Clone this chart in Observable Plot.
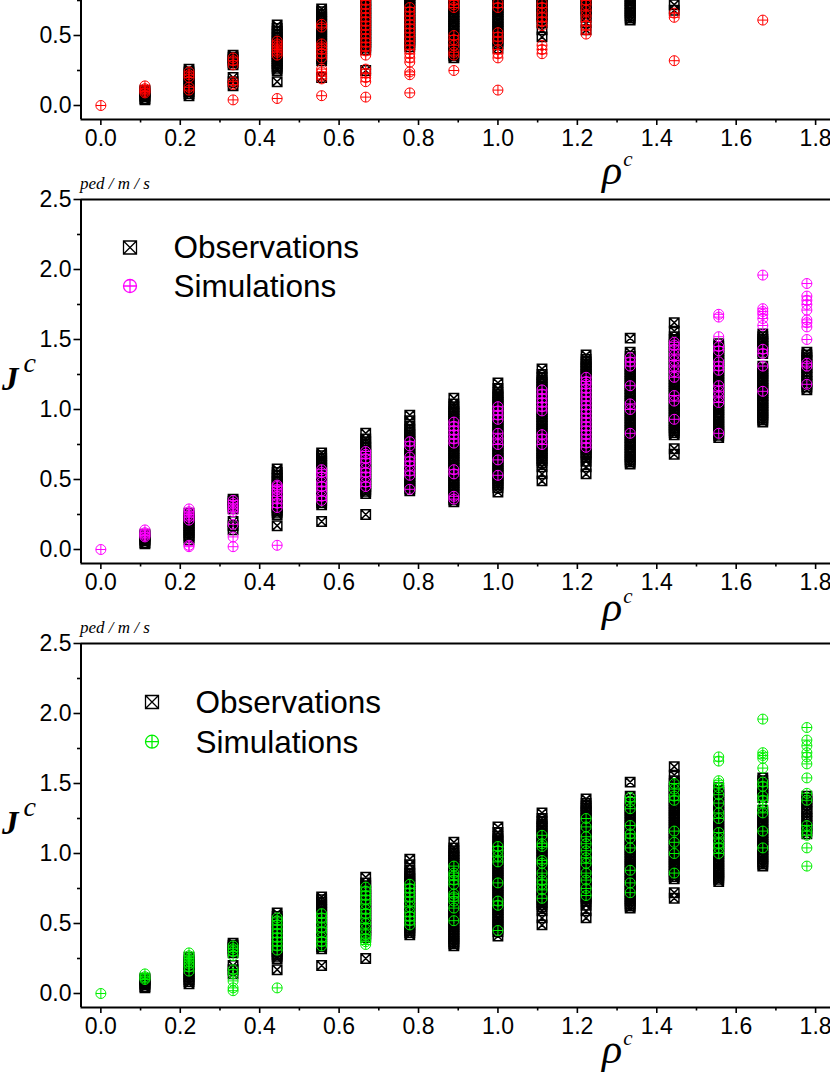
<!DOCTYPE html>
<html><head><meta charset="utf-8">
<script src="https://cdn.jsdelivr.net/npm/d3@7"></script>
<script src="https://cdn.jsdelivr.net/npm/@observablehq/plot@0.6"></script>
<style>
html,body{margin:0;padding:0;background:#fff;}
#wrap{position:relative;width:830px;height:1075px;overflow:hidden;background:#fff;}
</style></head><body><div id="wrap"></div>
<script>
// density columns rho^c (ped/m^2)
const rhoValues = [0, 0.111, 0.222, 0.333, 0.444, 0.556, 0.667, 0.778, 0.889, 1.0, 1.111, 1.222, 1.333, 1.444, 1.556, 1.667, 1.778];

// observed flow J^c per column
const obsFlux = [
  [],
  [0.04, 0.05, 0.065, 0.075, 0.09, 0.1, 0.11],
  [0.07, 0.085, 0.1, 0.12, 0.14, 0.155, 0.17, 0.19, 0.21, 0.225, 0.24, 0.26],
  [0.14, 0.17, 0.2, 0.29, 0.305, 0.32, 0.33, 0.345, 0.36],
  [0.17, 0.25, 0.265, 0.28, 0.3, 0.32, 0.335, 0.35, 0.37, 0.385, 0.4, 0.42, 0.44, 0.455, 0.47, 0.49, 0.51, 0.53, 0.55, 0.575],
  [0.2, 0.32, 0.335, 0.35, 0.37, 0.39, 0.405, 0.42, 0.44, 0.46, 0.475, 0.49, 0.51, 0.53, 0.545, 0.56, 0.58, 0.6, 0.615, 0.63, 0.65, 0.67, 0.69],
  [0.25, 0.4, 0.415, 0.43, 0.45, 0.47, 0.485, 0.5, 0.52, 0.54, 0.555, 0.57, 0.59, 0.61, 0.625, 0.64, 0.66, 0.68, 0.695, 0.71, 0.73, 0.75, 0.77, 0.79, 0.83],
  [0.42, 0.435, 0.45, 0.47, 0.49, 0.505, 0.52, 0.54, 0.56, 0.575, 0.59, 0.61, 0.63, 0.645, 0.66, 0.68, 0.7, 0.715, 0.73, 0.75, 0.77, 0.785, 0.8, 0.82, 0.84, 0.86, 0.88, 0.92, 0.96],
  [0.34, 0.355, 0.37, 0.39, 0.41, 0.425, 0.44, 0.46, 0.48, 0.495, 0.51, 0.53, 0.55, 0.565, 0.58, 0.6, 0.62, 0.635, 0.65, 0.67, 0.69, 0.705, 0.72, 0.74, 0.76, 0.775, 0.79, 0.81, 0.83, 0.845, 0.86, 0.88, 0.9, 0.915, 0.93, 0.95, 0.97, 0.985, 1.0, 1.02, 1.04, 1.08],
  [0.41, 0.44, 0.46, 0.475, 0.49, 0.51, 0.53, 0.545, 0.56, 0.58, 0.6, 0.615, 0.63, 0.65, 0.67, 0.685, 0.7, 0.72, 0.74, 0.755, 0.77, 0.79, 0.81, 0.825, 0.84, 0.86, 0.88, 0.895, 0.91, 0.93, 0.95, 0.965, 0.98, 1.0, 1.02, 1.035, 1.05, 1.07, 1.09, 1.105, 1.12, 1.15, 1.19],
  [0.49, 0.54, 0.59, 0.62, 0.635, 0.65, 0.67, 0.69, 0.705, 0.72, 0.74, 0.76, 0.775, 0.79, 0.81, 0.83, 0.845, 0.86, 0.88, 0.9, 0.915, 0.93, 0.95, 0.97, 0.985, 1.0, 1.02, 1.04, 1.055, 1.07, 1.09, 1.11, 1.125, 1.14, 1.16, 1.18, 1.195, 1.21, 1.23, 1.25, 1.29],
  [0.54, 0.59, 0.63, 0.66, 0.675, 0.69, 0.71, 0.73, 0.745, 0.76, 0.78, 0.8, 0.815, 0.83, 0.85, 0.87, 0.885, 0.9, 0.92, 0.94, 0.955, 0.97, 0.99, 1.01, 1.025, 1.04, 1.06, 1.08, 1.095, 1.11, 1.13, 1.15, 1.165, 1.18, 1.2, 1.22, 1.235, 1.25, 1.27, 1.29, 1.305, 1.32, 1.34, 1.36, 1.39],
  [0.61, 0.625, 0.64, 0.66, 0.68, 0.695, 0.71, 0.73, 0.75, 0.765, 0.78, 0.8, 0.82, 0.835, 0.85, 0.87, 0.89, 0.905, 0.92, 0.94, 0.96, 0.975, 0.99, 1.01, 1.03, 1.045, 1.06, 1.08, 1.1, 1.115, 1.13, 1.15, 1.17, 1.185, 1.2, 1.22, 1.24, 1.255, 1.27, 1.29, 1.31, 1.325, 1.34, 1.36, 1.38, 1.41, 1.51],
  [0.68, 0.72, 0.82, 0.835, 0.85, 0.87, 0.89, 0.905, 0.92, 0.94, 0.96, 0.975, 0.99, 1.01, 1.03, 1.045, 1.06, 1.08, 1.1, 1.115, 1.13, 1.15, 1.17, 1.185, 1.2, 1.22, 1.24, 1.255, 1.27, 1.29, 1.31, 1.325, 1.34, 1.36, 1.38, 1.395, 1.41, 1.43, 1.45, 1.465, 1.48, 1.5, 1.52, 1.56, 1.62],
  [0.8, 0.815, 0.83, 0.845, 0.86, 0.875, 0.89, 0.91, 0.93, 0.945, 0.96, 0.98, 1.0, 1.015, 1.03, 1.05, 1.07, 1.085, 1.1, 1.12, 1.14, 1.155, 1.17, 1.19, 1.21, 1.225, 1.24, 1.26, 1.28, 1.295, 1.31, 1.33, 1.35, 1.365, 1.38, 1.4, 1.42, 1.435, 1.45, 1.47],
  [0.91, 0.925, 0.94, 0.96, 0.98, 0.995, 1.01, 1.03, 1.05, 1.065, 1.08, 1.1, 1.12, 1.135, 1.15, 1.17, 1.19, 1.205, 1.22, 1.24, 1.26, 1.275, 1.29, 1.31, 1.4, 1.415, 1.43, 1.45, 1.47, 1.485, 1.5, 1.52, 1.54],
  [1.14, 1.16, 1.18, 1.2, 1.23, 1.25, 1.27, 1.3, 1.32, 1.35, 1.37, 1.39, 1.41]
];

// simulated flow, model 1 (red, top panel; values above 0.75 are outside the visible crop)
const simFluxRed = [
  [0],
  [0.09, 0.1, 0.11, 0.12, 0.14],
  [0.11, 0.13, 0.2, 0.22, 0.24],
  [0.04, 0.15, 0.17, 0.29, 0.32, 0.34],
  [0.05, 0.36, 0.38, 0.4, 0.42, 0.44, 0.46],
  [0.07, 0.19, 0.21, 0.24, 0.26, 0.34, 0.37, 0.4, 0.42, 0.44, 0.56, 0.58],
  [0.06, 0.17, 0.2, 0.23, 0.26, 0.36, 0.39, 0.42, 0.45, 0.48, 0.51, 0.54, 0.57, 0.6, 0.63, 0.66, 0.69, 0.72, 0.75],
  [0.09, 0.22, 0.24, 0.31, 0.34, 0.37, 0.4, 0.43, 0.46, 0.49, 0.52, 0.55, 0.58, 0.61, 0.64, 0.67, 0.7],
  [0.25, 0.36, 0.38, 0.43, 0.47, 0.5, 0.7, 0.72, 0.75],
  [0.11, 0.34, 0.37, 0.4, 0.46, 0.49, 0.52, 0.7, 0.73],
  [0.37, 0.4, 0.43, 0.57, 0.6, 0.63, 0.66, 0.7, 0.73],
  [0.51, 0.54, 0.57, 0.6, 0.64, 0.68, 0.72, 0.75],
  [],
  [0.32, 0.63, 0.66],
  [],
  [0.61],
  []
];

// simulated flow, model 2 (magenta, middle panel)
const simFluxMagenta = [
  [0],
  [0.09, 0.1, 0.11, 0.12, 0.14],
  [0.02, 0.03, 0.21, 0.23, 0.25, 0.27, 0.29],
  [0.02, 0.09, 0.18, 0.27, 0.29, 0.31, 0.33, 0.35],
  [0.03, 0.3, 0.33, 0.36, 0.38, 0.41, 0.43, 0.45, 0.46],
  [0.35, 0.38, 0.42, 0.45, 0.48, 0.52, 0.55, 0.57],
  [0.45, 0.48, 0.52, 0.55, 0.58, 0.62, 0.65, 0.68, 0.7],
  [0.43, 0.53, 0.56, 0.6, 0.63, 0.66, 0.74, 0.77],
  [0.36, 0.38, 0.54, 0.57, 0.76, 0.79, 0.82, 0.85, 0.88, 0.91],
  [0.53, 0.64, 0.75, 0.79, 0.83, 0.93, 0.96, 0.99, 1.02],
  [0.75, 0.79, 0.82, 0.99, 1.02, 1.05, 1.08, 1.11, 1.14],
  [0.73, 0.76, 0.79, 0.82, 0.85, 0.88, 0.91, 0.94, 0.97, 1.0, 1.03, 1.06, 1.09, 1.12, 1.15, 1.18, 1.2, 1.23],
  [0.83, 1.0, 1.04, 1.17, 1.31, 1.34, 1.37],
  [0.93, 1.06, 1.1, 1.23, 1.27, 1.31, 1.35, 1.39, 1.43, 1.46, 1.48],
  [0.83, 1.05, 1.09, 1.13, 1.17, 1.28, 1.31, 1.34, 1.42, 1.45, 1.52, 1.66, 1.68],
  [1.13, 1.31, 1.4, 1.43, 1.6, 1.65, 1.68, 1.7, 1.72, 1.96],
  [1.18, 1.31, 1.33, 1.5, 1.59, 1.62, 1.64, 1.71, 1.75, 1.78, 1.81, 1.9]
];

// simulated flow, model 3 (green, bottom panel)
const simFluxGreen = [
  [0],
  [0.1, 0.11, 0.12, 0.14],
  [0.16, 0.19, 0.21, 0.23, 0.25, 0.27, 0.29],
  [0.02, 0.04, 0.09, 0.14, 0.17, 0.27, 0.3, 0.32, 0.34],
  [0.04, 0.31, 0.34, 0.37, 0.4, 0.43, 0.46, 0.49, 0.52, 0.54],
  [0.34, 0.37, 0.4, 0.44, 0.47, 0.51, 0.54, 0.57],
  [0.35, 0.37, 0.39, 0.42, 0.46, 0.5, 0.54, 0.57, 0.6, 0.64, 0.67, 0.7, 0.73, 0.76],
  [0.49, 0.52, 0.55, 0.58, 0.62, 0.66, 0.69, 0.72, 0.75, 0.78],
  [0.52, 0.61, 0.66, 0.69, 0.71, 0.78, 0.81, 0.84, 0.86, 0.91],
  [0.45, 0.63, 0.66, 0.79, 0.94, 0.98, 1.02, 1.05],
  [0.68, 0.74, 0.78, 0.81, 0.86, 0.93, 0.95, 1.05, 1.07, 1.13],
  [0.7, 0.75, 0.81, 0.86, 0.93, 0.97, 1.02, 1.07, 1.12, 1.19, 1.25],
  [0.72, 0.79, 0.88, 1.04, 1.11, 1.14, 1.2, 1.32, 1.37, 1.4],
  [0.86, 1.0, 1.08, 1.16, 1.38, 1.41, 1.46, 1.5],
  [1.0, 1.04, 1.07, 1.11, 1.15, 1.25, 1.29, 1.36, 1.42, 1.47, 1.5, 1.52, 1.66, 1.69],
  [1.04, 1.16, 1.29, 1.33, 1.38, 1.41, 1.48, 1.51, 1.61, 1.68, 1.7, 1.72, 1.96],
  [0.91, 1.04, 1.13, 1.16, 1.2, 1.38, 1.43, 1.54, 1.64, 1.69, 1.72, 1.77, 1.81, 1.9]
];

const xTicksMajor = [0, 0.2, 0.4, 0.6, 0.8, 1.0, 1.2, 1.4, 1.6, 1.8];
const xTicksMinor = [0.1, 0.3, 0.5, 0.7, 0.9, 1.1, 1.3, 1.5, 1.7];
const yTicksMajor = [0, 0.5, 1.0, 1.5, 2.0, 2.5];
const yTicksMinor = [0.25, 0.75, 1.25, 1.75, 2.25];
const xDomain = [-0.05, 1.8375];
const yDomain = [-0.1, 2.5];
const legendLabels = ["Observations", "Simulations"];
const unitLabel = "ped / m / s";

function toRows(cols) {
  const rows = [];
  cols.forEach((vals, k) => vals.forEach(v => rows.push({rho: rhoValues[k], J: v})));
  return rows;
}
const obsRows = toRows(obsFlux);

// custom symbols: square with X, circle with plus
const squareX = {draw(ctx, size) {
  const s = Math.sqrt(size / Math.PI);
  ctx.moveTo(-s, -s); ctx.lineTo(s, -s); ctx.lineTo(s, s); ctx.lineTo(-s, s); ctx.closePath();
  ctx.moveTo(-s, -s); ctx.lineTo(s, s); ctx.moveTo(s, -s); ctx.lineTo(-s, s);
}};
const circlePlus = {draw(ctx, size) {
  const r = Math.sqrt(size / Math.PI);
  ctx.moveTo(r, 0); ctx.arc(0, 0, r, 0, 2 * Math.PI);
  ctx.moveTo(-r, 0); ctx.lineTo(r, 0); ctx.moveTo(0, -r); ctx.lineTo(0, r);
}};

const panels = [
  {sim: simFluxRed, color: "#ff0000", top: -265, lg: {sx: 130, tx: 173.5, y1: 68.5, y2: 107, b1: 79, b2: 117.5}, rhoBase: 449},
  {sim: simFluxMagenta, color: "#ff00ff", top: 179, lg: {sx: 130, tx: 173.5, y1: 68.5, y2: 107, b1: 79, b2: 117.5}, rhoBase: 442},
  {sim: simFluxGreen, color: "#00f000", top: 623, lg: {sx: 152, tx: 195.5, y1: 79, y2: 118.7, b1: 90.3, b2: 130.3}, rhoBase: 440}
];

const wrap = document.getElementById("wrap");
const serif = "'Liberation Serif', 'Times New Roman', serif";
const sans = "'Liberation Sans', Arial, sans-serif";

for (const p of panels) {
  const svg = Plot.plot({
    width: 830, height: 444,
    marginLeft: 80.5, marginRight: 0, marginTop: 20, marginBottom: 60,
    x: {domain: xDomain, label: null},
    y: {domain: yDomain, label: null},
    style: {fontFamily: sans, fontSize: "23px", overflow: "visible", background: "transparent", color: "#000"},
    marks: [
      Plot.axisX(xTicksMajor, {tickSize: 6, tickPadding: 4, strokeWidth: 1.6, tickFormat: d3.format(".1f"), label: null}),
      Plot.axisX(xTicksMinor, {tickSize: 3.5, strokeWidth: 1.6, tickFormat: () => "", label: null}),
      Plot.axisY(yTicksMajor, {tickSize: 7, tickPadding: 2.5, strokeWidth: 1.6, tickFormat: d3.format(".1f"), label: null}),
      Plot.axisY(yTicksMinor, {tickSize: 3.5, strokeWidth: 1.6, tickFormat: () => "", label: null}),
      Plot.dot(obsRows, {x: "rho", y: "J", symbol: squareX, r: 4.7, stroke: "#000", fill: "none", strokeWidth: 1.5}),
      Plot.dot(toRows(p.sim), {x: "rho", y: "J", symbol: circlePlus, r: 5, stroke: p.color, fill: "none", strokeWidth: 1}),
      Plot.ruleY([yDomain[0]], {strokeWidth: 2}),
      Plot.ruleY([yDomain[1]], {strokeWidth: 2}),
      Plot.ruleX([xDomain[0]], {strokeWidth: 2})
    ]
  });
  svg.style.position = "absolute";
  svg.style.left = "0px";
  svg.style.top = p.top + "px";
  const s = d3.select(svg);
  const g = s.append("g").attr("text-anchor", "start").attr("fill", "#000");

  // unit label above the frame
  g.append("text").attr("x", 80).attr("y", 10).attr("text-anchor", "start")
    .style("font-family", serif).style("font-style", "italic").style("font-size", "17px")
    .text(unitLabel);

  // y-axis title J^c
  const jt = g.append("text").attr("x", 2).attr("y", 211).attr("text-anchor", "start").style("font-family", serif);
  jt.append("tspan").text("J").style("font-style", "italic").style("font-weight", "bold").style("font-size", "33px");
  jt.append("tspan").text("c").attr("dx", 5).attr("dy", -18).style("font-style", "italic").style("font-size", "28px");

  // x-axis title rho^c
  const rt = g.append("text").attr("x", 602).attr("y", p.rhoBase).attr("text-anchor", "start").style("font-family", serif);
  rt.append("tspan").text("ρ").style("font-style", "italic").style("font-size", "42px");
  rt.append("tspan").text("c").attr("dx", 1).attr("dy", -18).style("font-style", "italic").style("font-size", "21px");

  // legend
  const lg = p.lg;
  const p1 = d3.path(); squareX.draw(p1, 6.5 * 6.5 * Math.PI);
  g.append("path").attr("d", p1.toString()).attr("transform", `translate(${lg.sx},${lg.y1})`)
    .attr("fill", "none").attr("stroke", "#000").attr("stroke-width", 1.3);
  const p2 = d3.path(); circlePlus.draw(p2, 6.5 * 6.5 * Math.PI);
  g.append("path").attr("d", p2.toString()).attr("transform", `translate(${lg.sx},${lg.y2})`)
    .attr("fill", "none").attr("stroke", p.color).attr("stroke-width", 1.3);
  g.append("text").attr("x", lg.tx).attr("y", lg.b1).attr("text-anchor", "start")
    .style("font-family", sans).style("font-size", "31.5px").text(legendLabels[0]);
  g.append("text").attr("x", lg.tx).attr("y", lg.b2).attr("text-anchor", "start")
    .style("font-family", sans).style("font-size", "31.5px").text(legendLabels[1]);

  wrap.appendChild(svg);
}
</script>
</body></html>
